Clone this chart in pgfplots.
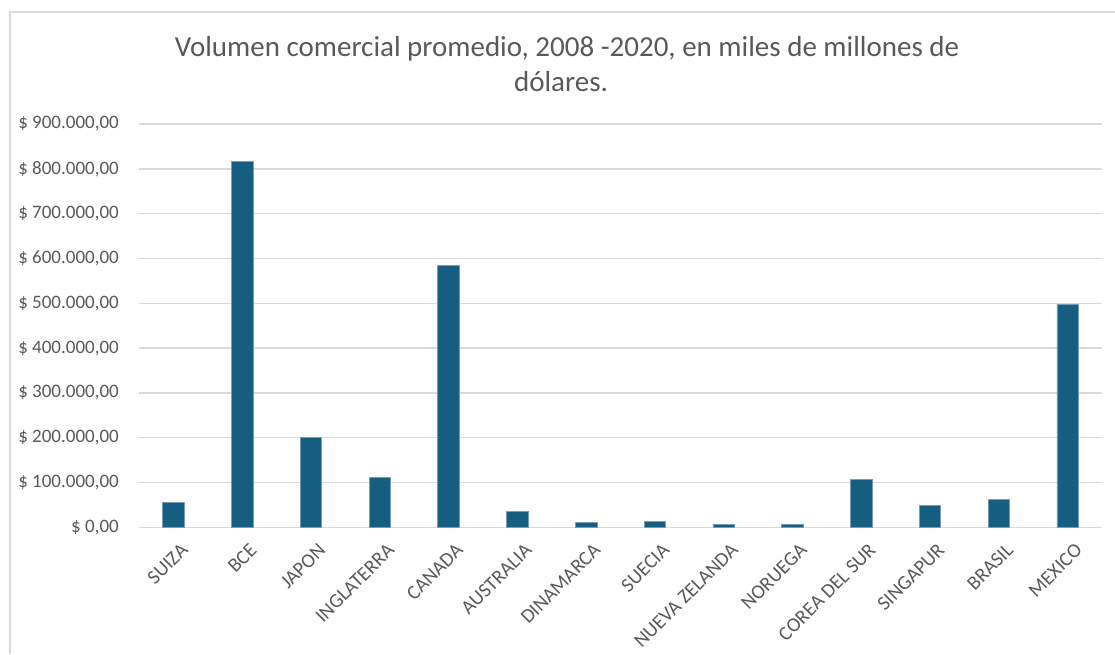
\documentclass[border=0pt]{standalone}
\usepackage{fontspec}
\setmainfont{Carlito}
\usepackage{pgfplots}
\pgfplotsset{compat=1.18}
\definecolor{barc}{RGB}{22,94,129}
\definecolor{txtc}{RGB}{89,89,89}
\definecolor{gridc}{RGB}{217,217,217}
\begin{document}
\begin{tikzpicture}[x=1pt,y=1pt]
\path[use as bounding box] (-139,-126.7) rectangle (976,527.3);
\draw[gridc, line width=1.5pt] (-129,-126.7) -- (-129,515.3) -- (976,515.3);
\begin{axis}[
  at={(0,0)}, anchor=south west,
  scale only axis, width=963pt, height=403.3pt,
  xmin=-0.5, xmax=13.5, ymin=0, ymax=900000,
  axis x line*=bottom, axis y line*=left,
  x axis line style={gridc, line width=1.5pt},
  y axis line style={draw=none},
  xtick={0,...,13},
  xticklabels={SUIZA,BCE,JAPON,INGLATERRA,CANADA,AUSTRALIA,DINAMARCA,SUECIA,NUEVA ZELANDA,NORUEGA,COREA DEL SUR,SINGAPUR,BRASIL,MEXICO},
  x tick label style={rotate=45, anchor=north east, inner sep=0pt, yshift=-15pt, xshift=-6pt, font=\fontsize{20}{23}\selectfont, text=txtc},
  major tick length=0pt,
  ytick={0,100000,...,900000},
  yticklabels={{\$ 0,00},{\$ 100.000,00},{\$ 200.000,00},{\$ 300.000,00},{\$ 400.000,00},{\$ 500.000,00},{\$ 600.000,00},{\$ 700.000,00},{\$ 800.000,00},{\$ 900.000,00}},
  yticklabel style={font=\fontsize{19}{22}\selectfont, text=txtc, inner sep=0pt, anchor=east, xshift=-20pt},
  scaled y ticks=false,
  ymajorgrids, grid style={gridc, line width=1.5pt},
  ybar, bar width=21.5pt,
  clip=false,
]
\addplot[fill=barc, draw=barc!60!white, line width=0.6pt] coordinates {
(0,55800) (1,816000) (2,201000) (3,110700) (4,584000) (5,34800) (6,11200)
(7,14000) (8,6700) (9,6700) (10,107000) (11,49000) (12,62500) (13,497000)};
\end{axis}
\node[anchor=base, text=txtc, font=\fontsize{29}{33}\selectfont] at (428,470.3) {Volumen comercial promedio, 2008 -2020, en miles de millones de};
\node[anchor=base, text=txtc, font=\fontsize{29}{33}\selectfont] at (422,435.3) {dólares.};
\end{tikzpicture}
\end{document}
